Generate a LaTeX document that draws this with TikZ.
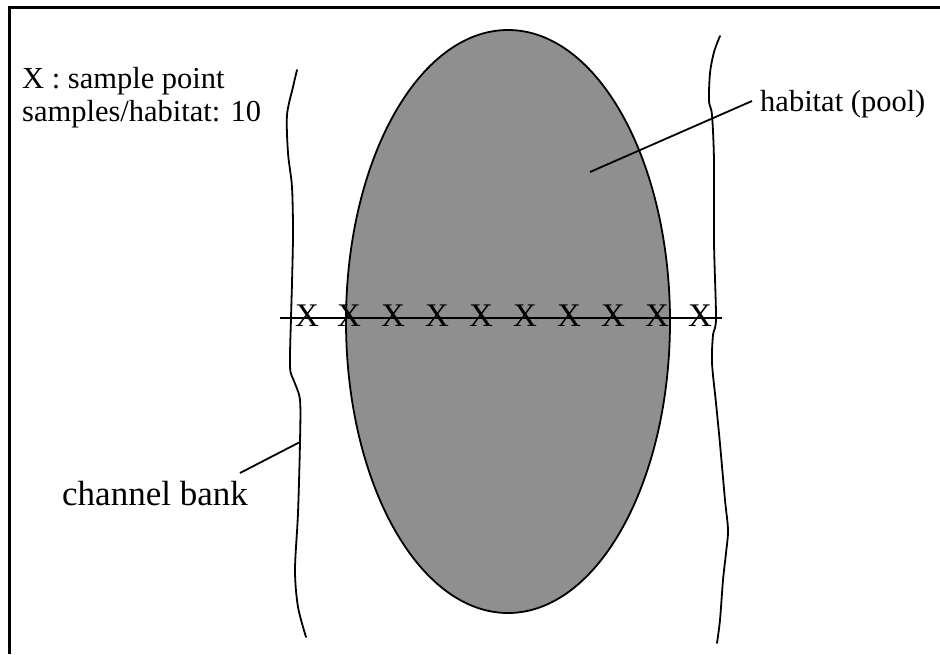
\documentclass[tikz,border=0pt]{standalone}
\usepackage{fontspec}
\setmainfont{Liberation Serif}
\usetikzlibrary{shapes.geometric}
\begin{document}
\begin{tikzpicture}[x=1pt,y=-1pt,
  frame/.style={line width=3pt,black},
  bank/.style={line width=1.8pt,black,line cap=round,line join=round},
  pointer/.style={line width=1.8pt,black},
  lbl/.style={inner sep=0pt,font=\fontsize{30.5}{32}\selectfont},
  bigl/.style={inner sep=0pt,font=\fontsize{35}{38}\selectfont},
  xmark/.style={inner sep=0pt,font=\fontsize{33}{33}\selectfont}]
\fill[white] (0,0) rectangle (940,654);
\useasboundingbox (0,0) rectangle (940,654);
% frame
\draw[frame] (9,654) -- (9,7) -- (940,7);
% pool
\node[draw=black,line width=1.8pt,fill=black!44,ellipse,minimum width=324pt,minimum height=583pt,inner sep=0pt] (pool) at (508,321.5) {};
% banks
\draw[bank] plot[smooth,tension=0.5] coordinates {(297,70) (293,87) (287,115) (288,153) (292,187) (293,233) (292,283) (291,318) (290,367) (294,381) (300,400) (300,442) (298,513) (295,570) (298,607) (306,637)};
\draw[bank] plot[smooth,tension=0.5] coordinates {(720,36) (714,52) (710,73) (709,101) (712,115) (714,161) (714,242) (716,318) (713,335) (712,363) (716,403) (720,444) (725,500) (728,530) (726,553) (723,580) (720,620) (717,643)};
% transect line
\coordinate (tl) at (280,318);
\coordinate (tr) at (722,318);
\draw[line width=1.6pt] (tl) -- (tr);
\foreach \i/\xx in {1/307,2/349,3/393,4/437,5/481,6/525,7/569,8/613,9/657,10/700}{
  \node[xmark] (x\i) at (\xx,316) {X};
}
% labels
\node[lbl,anchor=base west] (leg1) at (22,88) {X : sample point};
\node[lbl,anchor=base west] (leg2) at (22,121) {samples/habitat: 10};
\node[lbl,anchor=base west] (hab) at (760,111) {habitat (pool)};
\node[bigl,anchor=base west] (cb) at (62,505) {channel bank};
% pointers
\coordinate (hp) at (590,172);
\coordinate (hq) at (752,101);
\draw[pointer] (hp) -- (hq);
\coordinate (cp) at (300,442);
\coordinate (cq) at (240,473);
\draw[pointer] (cp) -- (cq);
\end{tikzpicture}
\end{document}
